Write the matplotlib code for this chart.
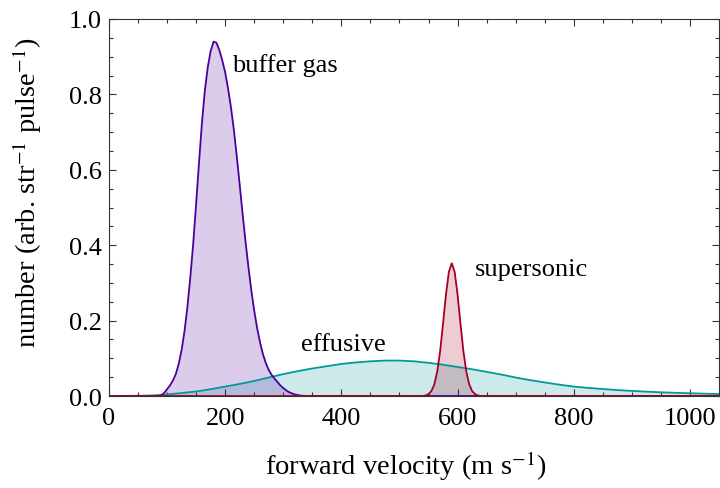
import matplotlib
matplotlib.use('Agg')
import matplotlib.pyplot as plt
from matplotlib.ticker import MultipleLocator

plt.rcParams['font.family'] = ['Liberation Serif', 'DejaVu Serif']
plt.rcParams['mathtext.fontset'] = 'stix'

# velocities (m/s) and relative numbers
buffer_v = [0, 85, 90, 95, 100, 105, 110, 115, 120, 125, 130, 135, 140, 145, 150,
            155, 160, 165, 170, 175, 180, 185, 190, 195, 200, 205, 210, 215, 220,
            225, 230, 235, 240, 245, 250, 255, 260, 265, 270, 275, 280, 285, 290,
            295, 300, 305, 310, 320, 330, 340, 1050]
buffer_n = [0, 0, 0.002, 0.008, 0.018, 0.028, 0.041, 0.058, 0.085, 0.122, 0.172,
            0.237, 0.315, 0.405, 0.51, 0.62, 0.725, 0.81, 0.872, 0.915, 0.94,
            0.937, 0.917, 0.89, 0.858, 0.815, 0.765, 0.705, 0.635, 0.56, 0.482,
            0.41, 0.342, 0.28, 0.226, 0.18, 0.142, 0.111, 0.087, 0.069, 0.056,
            0.046, 0.037, 0.028, 0.021, 0.015, 0.010, 0.004, 0.001, 0, 0]

effusive_v = [0, 50, 75, 100, 125, 150, 175, 200, 225, 250, 275, 300, 325, 350, 375,
              400, 425, 450, 475, 500, 525, 550, 575, 600, 625, 650, 675, 700, 725,
              750, 775, 800, 825, 850, 875, 900, 925, 950, 975, 1000, 1025, 1050]
effusive_n = [0, 0.0005, 0.0015, 0.004, 0.008, 0.012, 0.018, 0.025, 0.032, 0.040,
              0.049, 0.058, 0.066, 0.073, 0.079, 0.085, 0.089, 0.092, 0.094, 0.094,
              0.092, 0.088, 0.083, 0.077, 0.071, 0.064, 0.057, 0.049, 0.042, 0.036,
              0.030, 0.025, 0.0215, 0.0185, 0.0158, 0.0135, 0.0115, 0.0098, 0.0084,
              0.0072, 0.0061, 0.0052]

super_v = [0, 540, 545, 550, 555, 560, 565, 570, 575, 580, 585, 590, 595, 600, 605,
           610, 615, 620, 625, 630, 635, 640, 1050]
super_n = [0, 0, 0.0015, 0.005, 0.013, 0.031, 0.065, 0.119, 0.192, 0.269, 0.329,
           0.352, 0.329, 0.269, 0.192, 0.119, 0.065, 0.031, 0.013, 0.005, 0.0015,
           0, 0]

purple = '#4b009b'
teal = '#009999'
red = '#a50023'

fig = plt.figure(figsize=(7.2, 4.89), dpi=100)
ax = fig.add_axes([109/720, 1 - 397/489, 610/720, 377/489])

ax.fill_between(effusive_v, effusive_n, color=teal, alpha=0.2, lw=0)
ax.fill_between(buffer_v, buffer_n, color=purple, alpha=0.2, lw=0)
ax.fill_between(super_v, super_n, color=red, alpha=0.2, lw=0)
ax.plot(effusive_v, effusive_n, color=teal, lw=1.3, zorder=3)
ax.plot(buffer_v, buffer_n, color=purple, lw=1.3, zorder=3)
ax.plot(super_v, super_n, color=red, lw=1.3, zorder=3)

ax.text(212, 0.88, 'buffer gas', fontsize=19, va='center', ha='left')
ax.text(629, 0.337, 'supersonic', fontsize=19, va='center', ha='left')
ax.text(330, 0.138, 'effusive', fontsize=19, va='center', ha='left')

ax.set_xlim(0, 1050)
ax.set_ylim(0, 1.0)
ax.xaxis.set_major_locator(MultipleLocator(200))
ax.xaxis.set_minor_locator(MultipleLocator(50))
ax.yaxis.set_minor_locator(MultipleLocator(0.05))
ax.set_yticks([0, 0.2, 0.4, 0.6, 0.8, 1.0])
ax.set_yticklabels(['0.0', '0.2', '0.4', '0.6', '0.8', '1.0'])
ax.tick_params(which='both', direction='in', top=True, right=True,
               labelsize=19, width=0.8, color='#333333')
ax.tick_params(which='major', length=5)
ax.tick_params(which='minor', length=3)
ax.tick_params(axis='x', pad=8)
ax.tick_params(axis='y', pad=5)
for s in ax.spines.values():
    s.set_linewidth(0.8)
    s.set_color('#333333')

ax.set_xlabel('forward velocity (m s$^{-1}$)', fontsize=20.5)
ax.set_ylabel('number (arb. str$^{-1}$ pulse$^{-1}$)', fontsize=20.5)
ax.xaxis.set_label_coords(0.487, -0.14)
ax.yaxis.set_label_coords(-0.107, 0.541)
ax.xaxis.label.set_va('top')

fig.savefig('out.png', dpi=100)
